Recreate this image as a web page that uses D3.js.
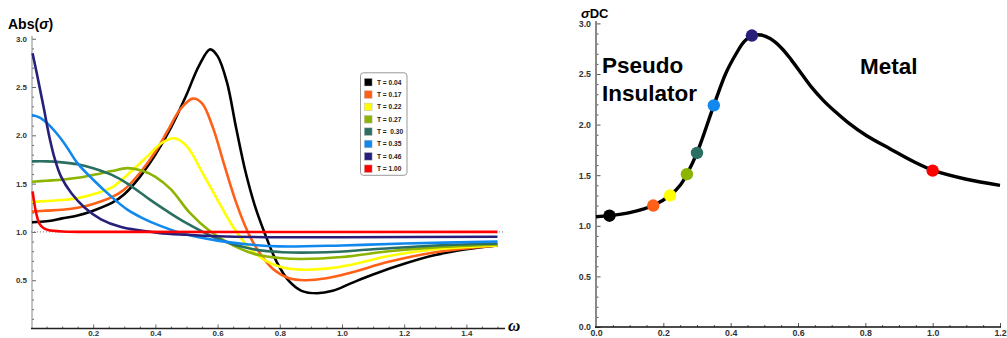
<!DOCTYPE html>
<html><head><meta charset="utf-8">
<script src="https://cdn.jsdelivr.net/npm/d3@7"></script>
<style>
html,body{margin:0;padding:0;background:#fff;}
svg{display:block;font-family:"Liberation Sans",Arial,sans-serif;}
</style></head>
<body>
<svg id="c" width="1007" height="338"></svg>
<script>
// ---------- DATA: left panel Abs(sigma) vs omega ----------
const legendLabels = ["T = 0.04","T = 0.17","T = 0.22","T = 0.27","T =  0.30","T = 0.35","T = 0.46","T = 1.00"];
const seriesColors = ["#000000","#ff5f17","#ffff00","#8cb400","#2a6f61","#1088ee","#27207a","#ff0000"];
const absT004 = [[0.003,1.10],[0.05,1.11],[0.1,1.14],[0.15,1.17],[0.2,1.22],[0.26,1.30],[0.3,1.39],[0.35,1.57],[0.4,1.80],[0.45,2.08],[0.5,2.42],[0.54,2.72],[0.576,2.89],[0.6,2.82],[0.63,2.55],[0.66,2.07],[0.69,1.62],[0.72,1.27],[0.75,1.00],[0.79,0.69],[0.83,0.49],[0.87,0.39],[0.92,0.365],[0.97,0.39],[1.03,0.47],[1.1,0.56],[1.2,0.67],[1.3,0.76],[1.4,0.82],[1.5,0.86]];
const absT017 = [[0.003,1.21],[0.05,1.22],[0.1,1.23],[0.15,1.25],[0.2,1.29],[0.26,1.36],[0.3,1.44],[0.35,1.61],[0.4,1.83],[0.44,2.05],[0.48,2.27],[0.52,2.38],[0.55,2.33],[0.585,2.08],[0.62,1.71],[0.66,1.30],[0.7,0.98],[0.74,0.76],[0.78,0.61],[0.83,0.52],[0.88,0.50],[0.95,0.52],[1.03,0.58],[1.15,0.69],[1.3,0.79],[1.5,0.86]];
const absT022 = [[0.003,1.31],[0.05,1.32],[0.1,1.33],[0.15,1.35],[0.2,1.39],[0.26,1.46],[0.32,1.62],[0.38,1.80],[0.42,1.92],[0.46,1.97],[0.5,1.89],[0.55,1.62],[0.6,1.33],[0.65,1.05],[0.7,0.84],[0.75,0.71],[0.8,0.64],[0.865,0.61],[0.95,0.62],[1.03,0.66],[1.15,0.75],[1.3,0.82],[1.5,0.86]];
const absT027 = [[0.003,1.52],[0.05,1.53],[0.1,1.54],[0.15,1.56],[0.2,1.59],[0.26,1.63],[0.31,1.66],[0.36,1.63],[0.4,1.57],[0.45,1.44],[0.51,1.20],[0.575,1.01],[0.65,0.86],[0.72,0.77],[0.8,0.73],[0.87,0.72],[1.0,0.74],[1.15,0.80],[1.3,0.84],[1.5,0.87]];
const absT030 = [[0.003,1.73],[0.05,1.73],[0.1,1.72],[0.15,1.70],[0.2,1.66],[0.26,1.59],[0.31,1.50],[0.38,1.34],[0.44,1.21],[0.49,1.11],[0.6,0.93],[0.7,0.83],[0.81,0.79],[0.95,0.79],[1.1,0.82],[1.3,0.86],[1.5,0.88]];
const absT035 = [[0.003,2.21],[0.03,2.18],[0.06,2.10],[0.09,1.99],[0.115,1.88],[0.15,1.71],[0.2,1.54],[0.26,1.36],[0.31,1.23],[0.36,1.14],[0.41,1.07],[0.49,0.98],[0.6,0.91],[0.7,0.87],[0.8,0.85],[1.0,0.86],[1.2,0.88],[1.5,0.90]];
const absT046 = [[0.005,2.85],[0.02,2.62],[0.04,2.30],[0.06,1.97],[0.077,1.75],[0.097,1.57],[0.13,1.40],[0.173,1.25],[0.225,1.13],[0.29,1.05],[0.41,0.99],[0.5,0.97],[0.6,0.955],[0.8,0.945],[1.0,0.945],[1.5,0.95]];
const absT100 = [[0.005,1.42],[0.017,1.19],[0.028,1.08],[0.04,1.04],[0.055,1.02],[0.1,1.005],[0.3,1.0],[1.5,1.0]];
const leftSeries = [absT004,absT017,absT022,absT027,absT030,absT035,absT046,absT100];
const leftXTicks = [0.2,0.4,0.6,0.8,1.0,1.2,1.4];
const leftYTicks = [0.5,1.0,1.5,2.0,2.5,3.0];

// ---------- DATA: right panel sigma_DC vs T ----------
const sdcCurve = [[0,1.09],[0.04,1.10],[0.1,1.13],[0.17,1.20],[0.22,1.30],[0.25,1.40],[0.27,1.51],[0.30,1.72],[0.35,2.19],[0.386,2.51],[0.418,2.71],[0.44,2.82],[0.464,2.88],[0.49,2.885],[0.517,2.85],[0.55,2.76],[0.58,2.64],[0.611,2.50],[0.64,2.37],[0.675,2.24],[0.71,2.13],[0.745,2.03],[0.804,1.89],[0.874,1.76],[0.943,1.635],[1.0,1.55],[1.1,1.46],[1.2,1.40]];
const dotTemps = [0.04,0.17,0.22,0.27,0.30,0.35,0.463,1.00];
const dotValues = [1.10,1.20,1.30,1.51,1.72,2.19,2.88,1.545];
const rightXTicks = [0.0,0.2,0.4,0.6,0.8,1.0,1.2];
const rightYTicks = [0.0,0.5,1.0,1.5,2.0,2.5,3.0];

const svg = d3.select("#c");
const fmt = d3.format(".1f");
const smooth = d3.curveCatmullRom.alpha(0.5);

// ================= LEFT PANEL =================
const xL = d3.scaleLinear().domain([0,1.52]).range([31,503.7]);
const yL = d3.scaleLinear().domain([0,3.05]).range([328.5,33.9]);
const gL = svg.append("g");

gL.append("line").attr("x1",xL(0)).attr("x2",xL(1.52)).attr("y1",yL(1)).attr("y2",yL(1))
  .attr("stroke","#777").attr("stroke-width",1).attr("stroke-dasharray","1,2");

const minorXL = d3.range(1,31).map(i=>i*0.05).filter(v=>!leftXTicks.some(t=>Math.abs(t-v)<1e-6));
const minorYL = d3.range(1,31).map(i=>i*0.1).filter(v=>!leftYTicks.some(t=>Math.abs(t-v)<1e-6));
const axXLm = gL.append("g").attr("transform",`translate(0,${yL(0)})`)
  .call(d3.axisBottom(xL).tickValues(minorXL).tickSize(-2).tickFormat(""));
const axYLm = gL.append("g").attr("transform",`translate(${xL(0)+1},0)`)
  .call(d3.axisLeft(yL).tickValues(minorYL).tickSize(-2).tickFormat(""));
const axXL = gL.append("g").attr("transform",`translate(0,${yL(0)})`)
  .call(d3.axisBottom(xL).tickValues(leftXTicks).tickSize(-4).tickFormat(fmt));
const axYL = gL.append("g").attr("transform",`translate(${xL(0)+1},0)`)
  .call(d3.axisLeft(yL).tickValues(leftYTicks).tickSize(-4).tickPadding(5).tickFormat(fmt));
[axXLm,axYLm,axXL,axYL].forEach(a=>{a.select(".domain").remove(); a.selectAll(".tick line").attr("stroke","#666");});
[axXL,axYL].forEach(a=>a.selectAll("text").attr("font-size",8).attr("font-weight","bold").attr("fill","#333").attr("font-family","Liberation Sans, Arial, sans-serif"));
axXL.selectAll("text").attr("y",7.3).attr("dy",0);
gL.append("line").attr("x1",xL(0)+1).attr("x2",xL(0)+1).attr("y1",yL(0)).attr("y2",36).attr("stroke","#888").attr("stroke-width",1);
gL.append("line").attr("x1",xL(0)).attr("x2",505).attr("y1",yL(0)).attr("y2",yL(0)).attr("stroke","#222").attr("stroke-width",1.3);

const lineL = d3.line().x(d=>xL(d[0])).y(d=>yL(d[1])).curve(smooth);
leftSeries.forEach((s,i)=>{
  gL.append("path").datum(s).attr("d",lineL).attr("fill","none")
    .attr("stroke",seriesColors[i]).attr("stroke-width",2.6).attr("stroke-linejoin","round");
});

gL.append("text").attr("x",8).attr("y",28.5).attr("font-size",14).attr("font-weight","bold")
  .html('Abs(<tspan font-style="italic">σ</tspan>)');
gL.append("text").attr("x",508).attr("y",331).attr("font-size",17).attr("font-weight","bold")
  .attr("font-style","italic").attr("font-family","Liberation Serif, serif").text("ω");

const lg = gL.append("g");
lg.append("rect").attr("x",360.5).attr("y",72.8).attr("width",46.5).attr("height",102.5).attr("rx",3)
  .attr("fill","#fff").attr("stroke","#999").attr("stroke-width",1);
legendLabels.forEach((lab,i)=>{
  const cy = 82.2 + i*12.36;
  lg.append("rect").attr("x",364.3).attr("y",cy-3.8).attr("width",7.8).attr("height",7.6)
    .attr("fill",seriesColors[i]).attr("stroke","#bbb").attr("stroke-width",0.5);
  lg.append("text").attr("x",377).attr("y",cy+2.4).attr("font-size",6.6).attr("font-weight","bold")
    .attr("fill","#222").style("white-space","pre").text(lab);
});

// ================= RIGHT PANEL =================
const xR = d3.scaleLinear().domain([0,1.2]).range([596,1000]);
const yR = d3.scaleLinear().domain([0,3]).range([327,23.4]);
const gR = svg.append("g");

const minorXR = d3.range(1,25).map(i=>i*0.05).filter(v=>!rightXTicks.some(t=>Math.abs(t-v)<1e-6));
const minorYR = d3.range(1,31).map(i=>i*0.1).filter(v=>!rightYTicks.some(t=>Math.abs(t-v)<1e-6));
const axXRm = gR.append("g").attr("transform",`translate(0,${yR(0)})`)
  .call(d3.axisBottom(xR).tickValues(minorXR).tickSize(-2).tickFormat(""));
const axYRm = gR.append("g").attr("transform",`translate(${xR(0)},0)`)
  .call(d3.axisLeft(yR).tickValues(minorYR).tickSize(-2.5).tickFormat(""));
const axXR = gR.append("g").attr("transform",`translate(0,${yR(0)})`)
  .call(d3.axisBottom(xR).tickValues(rightXTicks).tickSize(-4).tickFormat(fmt));
const axYR = gR.append("g").attr("transform",`translate(${xR(0)},0)`)
  .call(d3.axisLeft(yR).tickValues(rightYTicks).tickSize(-4.5).tickPadding(5).tickFormat(fmt));
[axXRm,axYRm,axXR,axYR].forEach(a=>{a.select(".domain").remove(); a.selectAll(".tick line").attr("stroke","#555");});
[axXR,axYR].forEach(a=>a.selectAll("text").attr("font-size",8.8).attr("font-weight","bold").attr("fill","#333").attr("font-family","Liberation Sans, Arial, sans-serif"));
axXR.selectAll("text").attr("y",8.6).attr("dy",0);
gR.append("line").attr("x1",xR(0)).attr("x2",xR(0)).attr("y1",yR(0)+1).attr("y2",21).attr("stroke","#888").attr("stroke-width",2);
gR.append("line").attr("x1",xR(0)-1).attr("x2",1001).attr("y1",yR(0)).attr("y2",yR(0)).attr("stroke","#111").attr("stroke-width",1.4);

const lineR = d3.line().x(d=>xR(d[0])).y(d=>yR(d[1])).curve(smooth);
gR.append("path").datum(sdcCurve).attr("d",lineR).attr("fill","none").attr("stroke","#000")
  .attr("stroke-width",3.4).attr("stroke-linejoin","round");
dotTemps.forEach((t,i)=>{
  gR.append("circle").attr("cx",xR(t)).attr("cy",yR(dotValues[i])).attr("r",6.2).attr("fill",seriesColors[i]);
});

gR.append("text").attr("x",581).attr("y",17.5).attr("font-size",13).attr("font-weight","bold")
  .html('<tspan font-style="italic">σ</tspan>DC');
gR.append("text").attr("x",602).attr("y",73).attr("font-size",22.5).attr("font-weight","bold").text("Pseudo");
gR.append("text").attr("x",602).attr("y",101).attr("font-size",22.5).attr("font-weight","bold").text("Insulator");
gR.append("text").attr("x",860).attr("y",74).attr("font-size",22.5).attr("font-weight","bold").text("Metal");
</script>
</body></html>
